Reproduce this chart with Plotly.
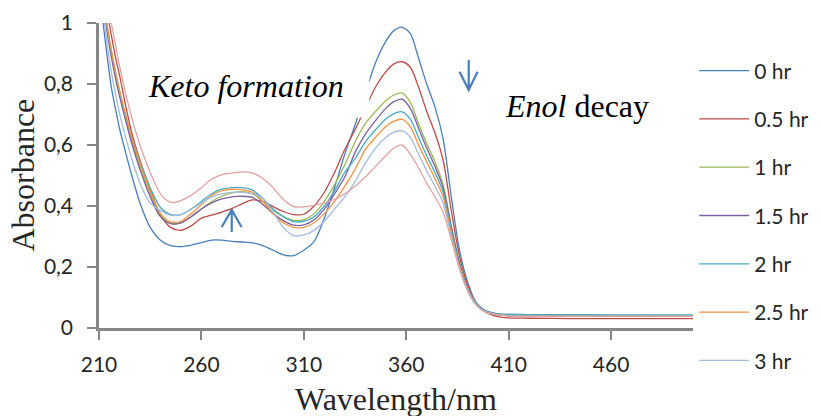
import plotly.graph_objects as go

# Wavelength grid (nm)
wavelength = [210, 212, 214, 216, 218, 220, 223, 226, 230, 235, 240, 245, 250,
              255, 260, 265, 270, 275, 280, 285, 290, 295, 300,
              305, 310, 315, 320, 325, 330, 335, 340, 345, 350,
              354, 358, 362, 366, 370, 374, 378, 382, 386, 390,
              394, 398, 402, 406, 410, 420, 440, 460, 480, 500]

abs_0h = [1.12, 1.00, 0.89, 0.79, 0.72, 0.655, 0.575, 0.50, 0.41, 0.33, 0.288, 0.27, 0.267,
          0.272, 0.28, 0.288, 0.288, 0.284, 0.282, 0.279, 0.27, 0.255, 0.24,
          0.237, 0.255, 0.283, 0.36, 0.46, 0.57, 0.665, 0.77, 0.87, 0.94,
          0.975, 0.986, 0.965, 0.885, 0.80, 0.725, 0.62, 0.43, 0.255, 0.15,
          0.085, 0.06, 0.05, 0.045, 0.042, 0.04, 0.039, 0.039, 0.038, 0.038]

abs_05h = [1.3, 1.16, 1.04, 0.96, 0.89, 0.83, 0.73, 0.64, 0.55, 0.455, 0.37, 0.33, 0.32,
           0.335, 0.36, 0.37, 0.38, 0.392, 0.408, 0.42, 0.415, 0.398, 0.382,
           0.372, 0.373, 0.40, 0.445, 0.51, 0.585, 0.65, 0.72, 0.79, 0.84,
           0.866, 0.873, 0.855, 0.79, 0.71, 0.64, 0.55, 0.385, 0.235, 0.14,
           0.08, 0.055, 0.042, 0.036, 0.033, 0.032, 0.031, 0.031, 0.031, 0.031]

abs_1h = [1.2, 1.08, 0.98, 0.9, 0.83, 0.77, 0.69, 0.615, 0.53, 0.44, 0.37, 0.343, 0.345,
          0.365, 0.39, 0.415, 0.432, 0.443, 0.447, 0.44, 0.415, 0.385, 0.365,
          0.353, 0.355, 0.375, 0.415, 0.47, 0.535, 0.61, 0.67, 0.71, 0.745,
          0.764, 0.77, 0.74, 0.67, 0.605, 0.545, 0.47, 0.335, 0.215, 0.13,
          0.08, 0.056, 0.047, 0.043, 0.041, 0.04, 0.039, 0.039, 0.039, 0.039]

abs_15h = [1.18, 1.07, 0.97, 0.89, 0.82, 0.76, 0.68, 0.605, 0.52, 0.43, 0.365, 0.342, 0.345,
           0.365, 0.39, 0.41, 0.423, 0.43, 0.432, 0.428, 0.405, 0.375, 0.352,
           0.337, 0.338, 0.355, 0.39, 0.44, 0.495, 0.575, 0.635, 0.68, 0.72,
           0.742, 0.75, 0.72, 0.655, 0.59, 0.53, 0.46, 0.33, 0.21, 0.128,
           0.079, 0.055, 0.046, 0.042, 0.04, 0.039, 0.038, 0.038, 0.038, 0.038]

abs_2h = [1.2, 1.09, 0.99, 0.91, 0.84, 0.775, 0.695, 0.625, 0.545, 0.46, 0.395, 0.372, 0.372,
          0.39, 0.415, 0.44, 0.455, 0.46, 0.46, 0.452, 0.425, 0.39, 0.365,
          0.349, 0.35, 0.365, 0.40, 0.45, 0.51, 0.555, 0.61, 0.65, 0.685,
          0.703, 0.709, 0.685, 0.625, 0.565, 0.51, 0.445, 0.32, 0.205, 0.127,
          0.08, 0.057, 0.049, 0.046, 0.045, 0.044, 0.044, 0.043, 0.043, 0.043]

abs_25h = [1.2, 1.09, 0.99, 0.91, 0.84, 0.78, 0.70, 0.625, 0.54, 0.45, 0.375, 0.348, 0.35,
           0.375, 0.405, 0.435, 0.45, 0.455, 0.453, 0.445, 0.415, 0.375, 0.345,
           0.33, 0.33, 0.345, 0.375, 0.415, 0.465, 0.52, 0.585, 0.625, 0.66,
           0.678, 0.684, 0.66, 0.60, 0.545, 0.49, 0.43, 0.31, 0.2, 0.123,
           0.077, 0.055, 0.046, 0.042, 0.04, 0.039, 0.038, 0.038, 0.038, 0.038]

abs_3h = [1.15, 1.03, 0.93, 0.84, 0.77, 0.705, 0.625, 0.555, 0.475, 0.41, 0.385, 0.37, 0.372,
          0.39, 0.41, 0.43, 0.44, 0.445, 0.445, 0.44, 0.425, 0.38, 0.33,
          0.303, 0.305, 0.32, 0.35, 0.39, 0.43, 0.48, 0.54, 0.59, 0.625,
          0.642, 0.647, 0.625, 0.57, 0.515, 0.465, 0.41, 0.30, 0.195, 0.12,
          0.076, 0.054, 0.046, 0.042, 0.04, 0.039, 0.038, 0.038, 0.038, 0.038]

abs_35h = [1.35, 1.2, 1.08, 1.0, 0.93, 0.86, 0.77, 0.69, 0.60, 0.51, 0.44, 0.412, 0.418,
           0.435, 0.46, 0.488, 0.503, 0.508, 0.512, 0.508, 0.49, 0.46, 0.422,
           0.398, 0.397, 0.402, 0.41, 0.422, 0.44, 0.465, 0.495, 0.53, 0.565,
           0.59, 0.60, 0.57, 0.525, 0.475, 0.43, 0.38, 0.29, 0.195, 0.125,
           0.078, 0.055, 0.047, 0.042, 0.04, 0.039, 0.038, 0.038, 0.038, 0.038]

series_names = ["0 hr", "0.5 hr", "1 hr", "1.5 hr", "2 hr", "2.5 hr", "3 hr", "3.5 hr"]
series_values = [abs_0h, abs_05h, abs_1h, abs_15h, abs_2h, abs_25h, abs_3h, abs_35h]
series_colors = ["#4A7EBB", "#BE4B48", "#98B954", "#7D60A0",
                 "#46AAC5", "#F69240", "#A3BCDC", "#E2A3A2"]
in_legend = [True, True, True, True, True, True, True, False]

x_ticks = [210, 260, 310, 360, 410, 460]
y_ticks = [0, 0.2, 0.4, 0.6, 0.8, 1]
y_tick_text = ["0", "0,2", "0,4", "0,6", "0,8", "1"]

SERIF = "Liberation Serif, Times New Roman, serif"
SANS = "Lato, Liberation Sans, Arial, sans-serif"
AXIS_GREY = "#868686"
ARROW_BLUE = "#4A7EBB"

fig = go.Figure()
for name, vals, col, show in zip(series_names, series_values, series_colors, in_legend):
    fig.add_trace(go.Scatter(
        x=wavelength, y=vals, name=name, mode="lines",
        line=dict(color=col, width=1.3, shape="spline", smoothing=0.8),
        showlegend=show, legendgroup=name,
    ))

fig.update_layout(
    width=820, height=416,
    margin=dict(l=99, r=127, t=23, b=88, autoexpand=False),
    paper_bgcolor="white", plot_bgcolor="white",
    font=dict(family=SANS, size=21, color="#262626"),
    showlegend=True,
    legend=dict(x=1.002, xanchor="left", y=0.91, yanchor="top",
                font=dict(family=SANS, size=21, color="#262626"),
                traceorder="grouped", tracegroupgap=18, itemwidth=50,
                maxheight=410, bgcolor="rgba(0,0,0,0)"),
    xaxis=dict(range=[210, 500], tickvals=x_ticks, ticks="outside", ticklen=9,
               tickwidth=2, tickcolor=AXIS_GREY, showline=True, linecolor=AXIS_GREY,
               linewidth=2.5, showgrid=False, zeroline=False,
               tickfont=dict(family=SANS, size=21, color="#262626"),
               ticklabelstandoff=7),
    yaxis=dict(range=[0, 1], tickvals=y_ticks, ticktext=y_tick_text, ticks="outside",
               ticklen=9, tickwidth=2, tickcolor=AXIS_GREY, showline=True,
               linecolor=AXIS_GREY, linewidth=2.5, showgrid=False, zeroline=False,
               tickfont=dict(family=SANS, size=21, color="#262626"),
               ticklabelstandoff=10),
)

# White box behind the "Keto formation" label (masks the curves beneath it)
fig.add_shape(type="rect", xref="x", yref="y", x0=227, x1=342, y0=0.69, y1=0.92,
              fillcolor="white", line=dict(width=0), layer="above")

# Arrows showing the direction of change
fig.add_shape(type="path", xref="x", yref="y", layer="above",
              path="M274.8,0.315 L274.8,0.387 M269.9,0.331 L274.8,0.387 L279.6,0.331",
              line=dict(color=ARROW_BLUE, width=2.2))
fig.add_shape(type="path", xref="x", yref="y", layer="above",
              path="M390.5,0.879 L390.5,0.780 M386.0,0.840 L390.5,0.780 L394.8,0.840",
              line=dict(color=ARROW_BLUE, width=2.2))

fig.add_annotation(text="<i>Keto formation</i>", xref="paper", yref="paper",
                   x=0.0791, y=0.795, xanchor="left", yanchor="middle",
                   showarrow=False, font=dict(family=SERIF, size=32, color="black"))
fig.add_annotation(text="<i>Enol</i> decay", xref="paper", yref="paper",
                   x=0.680, y=0.728, xanchor="left", yanchor="middle",
                   showarrow=False, font=dict(family=SERIF, size=32, color="black"))
fig.add_annotation(text="Absorbance", xref="paper", yref="paper",
                   x=-0.1296, y=0.5, xanchor="center", yanchor="middle", textangle=-90,
                   showarrow=False, font=dict(family=SERIF, size=32, color="#262626"))
fig.add_annotation(text="Wavelength/nm", xref="paper", yref="paper",
                   x=0.5, y=-0.232, xanchor="center", yanchor="middle",
                   showarrow=False, font=dict(family=SERIF, size=32, color="#262626"))

fig.write_html("out.html")
